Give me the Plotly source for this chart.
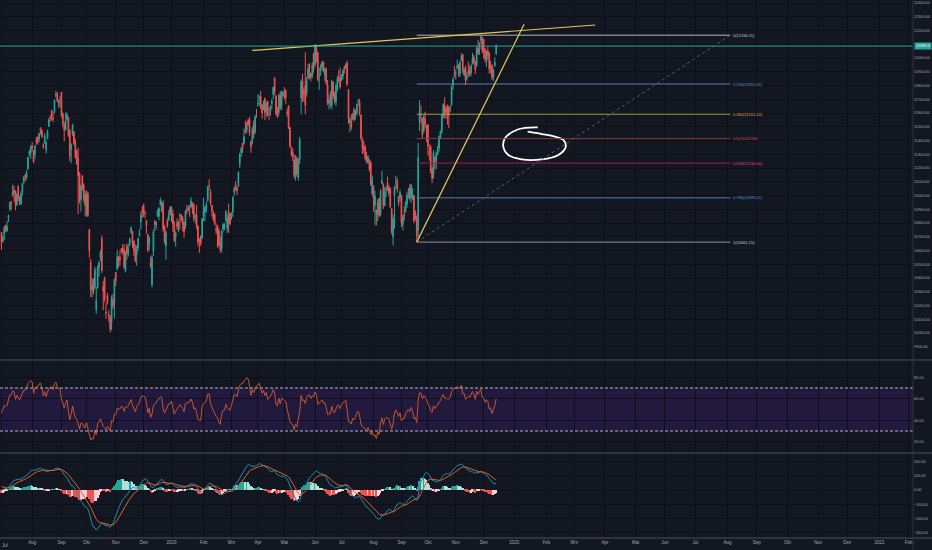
import numpy as np
import pandas as pd
import plotly.graph_objects as go

# ---------------- calendar (trading days) ----------------
first_day = "2018-07-02"
last_day = "2019-12-13"
axis_end_day = "2021-03-31"
holidays = ["2018-08-15", "2018-08-22", "2018-09-13", "2018-09-20", "2018-10-02", "2018-10-18",
            "2018-11-08", "2018-11-23", "2018-12-25", "2019-03-04", "2019-03-21", "2019-04-17",
            "2019-04-19", "2019-04-29", "2019-05-01", "2019-06-05", "2019-08-12", "2019-08-15",
            "2019-09-02", "2019-09-10", "2019-10-02", "2019-10-08", "2019-10-21", "2019-10-28",
            "2019-11-12"]
special_sessions = ["2019-10-27"]
month_labels = ["", "Feb", "Mrz", "Apr", "Mai", "Jun", "Jul", "Aug", "Sep", "Okt", "Nov", "Dez"]

# ---------------- price data (daily OHLC) ----------------
warmup_closes = [10212, 10245, 10128, 10326, 10331, 10379, 10402, 10418, 10459, 10480, 10528, 10548, 10526,
                 10565, 10564, 10584, 10614, 10570, 10617, 10692, 10739, 10718, 10679, 10618, 10715, 10717,
                 10741, 10717, 10806, 10806, 10801, 10741, 10682, 10596, 10517, 10536, 10430, 10513, 10605,
                 10688, 10633, 10614, 10736, 10697, 10628, 10594, 10684, 10768, 10768, 10787, 10843, 10856,
                 10808, 10818, 10800, 10710, 10772, 10741, 10822, 10762, 10769, 10671, 10589, 10714]

opens = [
    10732, 10668, 10715, 10786, 10744, 10838, 10902, 10957, 10999, 11041, 11034, 10929, 11060, 10990, 10936, 11025, 11105, 11147, 11133, 11195, 11296, 11311,
    11359, 11328, 11297, 11401, 11424, 11412, 11493, 11474, 11369, 11381, 11334, 11412, 11502, 11576, 11620, 11566, 11605, 11731, 11744, 11694, 11675,
    11751, 11598, 11514, 11476, 11558, 11570, 11476, 11340, 11443, 11465, 11381, 11326, 11271, 11165, 10969, 11145, 11079, 11008,
    10930, 11012, 10754, 10514, 10310, 10391, 10332, 10169, 10331, 10474, 10550, 10688, 10339, 10405, 10152, 10273, 10135, 10122, 10078, 10239, 10209,
    10441, 10462, 10558, 10553, 10614, 10614, 10607, 10451, 10634, 10581, 10644, 10731, 10740, 10670, 10612, 10568, 10621, 10708, 10809, 10892,
    10930, 10877, 10820, 10718, 10644, 10508, 10350, 10591, 10810, 10784, 10853, 10850, 10930, 10885, 10944, 10780, 10635, 10817, 10820, 10914,
    10881, 10868, 10796, 10699, 10804, 10786, 10863, 10859, 10834, 10807, 10777, 10900, 10899, 10914, 10919, 10949, 10931, 10844, 10859, 10780, 10653, 10702, 10690,
    10852, 10876, 10908, 10965, 11071, 11024, 10930, 10879, 10865, 10757, 10780, 10742, 10653, 10614, 10755, 10766, 10822, 10761, 10881, 10867,
    10842, 10880, 11024, 11077, 11054, 11068, 11228, 11312, 11381, 11377, 11473, 11476, 11551, 11549, 11396, 11393, 11526, 11463, 11625,
    11665, 11712, 11721, 11660, 11638, 11705, 11612, 11687, 11598, 11612, 11668, 11736, 11856, 11727, 11612, 11601, 11736, 11651, 11726,
    11726, 11765, 11605, 11651, 11496, 11323, 11314, 11258, 11151, 11271, 11132, 11262, 11707, 11835, 11760, 11802, 11748, 11855, 11958, 11891, 11871, 12031,
    11953, 12069, 12040, 11865, 11912, 11932, 11972, 11875, 11924, 11806, 11670, 11709, 11657, 11826, 11725, 11681, 11768, 11860, 11861,
    11840, 11867, 11932, 11929, 11964, 11770, 11531, 11537, 11561, 11627, 11578, 11596, 11682, 11675, 11585, 11404, 11358, 11353, 11280, 11240, 11247, 11240, 11013,
    11061, 10931, 10895, 10865, 10979, 10870, 11087, 11086, 10925, 11043, 11095, 11063, 11052, 10905, 10699, 11000, 11101, 11101, 10996, 10987,
    11003, 10790, 10861, 10883, 10937, 11029, 11058, 10986, 10995, 11001, 10872, 10845, 10747, 11542, 11590, 11565, 11469, 11556, 11484,
    11516, 11323, 11352, 11197, 11157, 11280, 11257, 11301, 11343, 11423, 11466, 11580, 11657, 11637, 11657, 11646, 11627, 11661, 11800, 11883,
    11886, 11928, 11941, 11883, 11988, 12023, 11878, 11926, 11852, 11905, 11915, 11892, 11957, 12004, 11969, 11946, 12068, 12060, 12132, 12147,
    12137, 12067, 11976, 12051, 12039, 11939, 11944, 11868, 11944, 12027]

highs = [
    10736, 10713, 10777, 10786, 10817, 10860, 10956, 10959, 11078, 11071, 11036, 11019, 11076, 10993, 11031, 11093, 11143, 11157, 11185, 11283, 11332, 11366,
    11391, 11328, 11368, 11427, 11428, 11459, 11495, 11478, 11380, 11453, 11400, 11479, 11565, 11582, 11620, 11605, 11700, 11760, 11754, 11698, 11727,
    11751, 11602, 11536, 11604, 11603, 11570, 11479, 11380, 11523, 11465, 11411, 11332, 11346, 11171, 11080, 11145, 11089, 11035,
    11035, 11030, 10754, 10541, 10399, 10397, 10482, 10335, 10492, 10526, 10604, 10710, 10380, 10408, 10223, 10290, 10166, 10128, 10275, 10285, 10396,
    10441, 10606, 10558, 10600, 10616, 10646, 10645, 10596, 10651, 10646, 10695, 10775, 10740, 10671, 10646, 10637, 10695, 10757, 10883, 10922,
    10941, 10890, 10821, 10722, 10704, 10558, 10567, 10752, 10822, 10815, 10900, 10915, 10985, 10962, 10964, 10782, 10747, 10834, 10893, 10923,
    10923, 10896, 10814, 10741, 10835, 10818, 10870, 10860, 10850, 10808, 10896, 10929, 10931, 10930, 10988, 10949, 10944, 10866, 10931, 10780, 10690, 10710, 10838,
    10983, 10928, 10956, 11072, 11119, 11043, 10930, 10891, 10867, 10798, 10785, 10762, 10703, 10750, 10801, 10799, 10895, 10859, 10941, 10877,
    10877, 10995, 11063, 11105, 11066, 11176, 11311, 11352, 11384, 11487, 11544, 11535, 11556, 11573, 11396, 11500, 11546, 11588, 11630,
    11738, 11728, 11761, 11662, 11689, 11713, 11683, 11688, 11642, 11657, 11704, 11791, 11856, 11727, 11645, 11740, 11759, 11763, 11760,
    11789, 11770, 11633, 11657, 11500, 11357, 11345, 11300, 11294, 11286, 11270, 11426, 11845, 11884, 11784, 12041, 11860, 11958, 11958, 11893, 11968, 12039,
    12103, 12096, 12040, 11931, 11954, 11980, 11975, 11931, 11930, 11840, 11734, 11759, 11843, 11828, 11754, 11814, 11871, 11911, 11932,
    11884, 11917, 11945, 11961, 11981, 11771, 11570, 11593, 11601, 11639, 11624, 11670, 11701, 11704, 11590, 11424, 11399, 11368, 11318, 11292, 11265, 11254, 11146,
    11076, 11034, 10895, 10975, 10980, 11045, 11181, 11086, 11060, 11068, 11138, 11075, 11055, 10908, 10862, 11070, 11143, 11129, 10996, 11043,
    11003, 10860, 10920, 10961, 11028, 11054, 11082, 11084, 11055, 11001, 10893, 10855, 11382, 11694, 11655, 11565, 11589, 11610, 11513,
    11516, 11370, 11369, 11208, 11330, 11285, 11319, 11364, 11438, 11473, 11597, 11670, 11714, 11645, 11660, 11646, 11658, 11800, 11860, 11945,
    11918, 11989, 11958, 11981, 12034, 12030, 11930, 11946, 11898, 11974, 11946, 11957, 12038, 12022, 11982, 12084, 12132, 12114, 12166, 12158,
    12137, 12069, 12054, 12082, 12040, 11981, 11956, 11924, 12004, 12099]

lows = [
    10604, 10658, 10677, 10733, 10735, 10807, 10886, 10894, 10993, 10957, 10893, 10925, 10956, 10931, 10934, 10999, 11083, 11100, 11116, 11186, 11286, 11267,
    11322, 11234, 11267, 11370, 11370, 11386, 11443, 11419, 11340, 11380, 11305, 11410, 11499, 11539, 11546, 11533, 11595, 11710, 11679, 11639, 11640,
    11567, 11499, 11394, 11476, 11539, 11427, 11250, 11235, 11432, 11366, 11268, 11220, 10866, 10944, 10882, 11034, 10953, 10850,
    10845, 10844, 10547, 10261, 10262, 10280, 10318, 10139, 10322, 10410, 10525, 10436, 10167, 10224, 10102, 10207, 10080, 10004, 10020, 10175, 10105,
    10341, 10457, 10477, 10489, 10582, 10569, 10464, 10440, 10532, 10557, 10631, 10721, 10620, 10562, 10513, 10489, 10596, 10699, 10755, 10836,
    10845, 10833, 10722, 10588, 10599, 10474, 10333, 10560, 10743, 10752, 10844, 10819, 10928, 10880, 10738, 10649, 10534, 10764, 10817, 10853,
    10807, 10735, 10661, 10628, 10750, 10733, 10749, 10809, 10739, 10692, 10757, 10864, 10883, 10844, 10907, 10864, 10811, 10798, 10756, 10631, 10583, 10631, 10683,
    10813, 10815, 10878, 10954, 11034, 10926, 10848, 10813, 10785, 10718, 10620, 10628, 10586, 10585, 10731, 10748, 10802, 10729, 10729, 10784,
    10823, 10845, 10996, 11035, 11002, 11061, 11199, 11280, 11309, 11370, 11451, 11452, 11503, 11434, 11311, 11371, 11416, 11447, 11565,
    11644, 11655, 11629, 11559, 11620, 11550, 11570, 11577, 11550, 11578, 11630, 11700, 11729, 11583, 11562, 11579, 11621, 11622, 11716,
    11698, 11666, 11572, 11484, 11344, 11285, 11251, 11125, 11108, 11136, 11108, 11231, 11591, 11681, 11682, 11591, 11719, 11845, 11845, 11830, 11852, 11893,
    11936, 11967, 11830, 11769, 11871, 11905, 11894, 11831, 11801, 11657, 11626, 11641, 11626, 11706, 11670, 11651, 11757, 11821, 11775,
    11831, 11844, 11887, 11923, 11797, 11523, 11461, 11475, 11546, 11538, 11553, 11583, 11653, 11578, 11399, 11303, 11305, 11254, 11233, 11232, 11175, 11068, 10999,
    10882, 10783, 10783, 10814, 10842, 10850, 11084, 10902, 10925, 10988, 11032, 10994, 10908, 10719, 10637, 10757, 11049, 11021, 10923, 10957,
    10771, 10746, 10816, 10876, 10911, 10977, 10964, 10946, 10969, 10797, 10818, 10661, 10691, 11469, 11523, 11413, 11453, 11491, 11390,
    11290, 11255, 11158, 11090, 11123, 11191, 11191, 11294, 11319, 11409, 11448, 11559, 11563, 11556, 11516, 11490, 11606, 11652, 11768, 11856,
    11843, 11919, 11863, 11862, 11975, 11888, 11867, 11802, 11834, 11867, 11862, 11868, 11954, 11952, 11884, 11934, 12022, 12022, 12101, 12034,
    11996, 11968, 11937, 11989, 11887, 11888, 11842, 11832, 11935, 12023]

closes = [
    10657, 10699, 10769, 10749, 10772, 10852, 10947, 10948, 11023, 11018, 10936, 11008, 10980, 10957, 11010, 11084, 11134, 11132, 11167, 11278, 11319, 11357,
    11346, 11244, 11361, 11387, 11389, 11450, 11470, 11429, 11355, 11435, 11385, 11470, 11551, 11570, 11582, 11557, 11692, 11738, 11691, 11676, 11680,
    11582, 11520, 11476, 11537, 11589, 11438, 11287, 11369, 11515, 11377, 11278, 11234, 11143, 10967, 11067, 11053, 10977, 10930,
    11008, 10858, 10599, 10316, 10348, 10301, 10460, 10234, 10473, 10512, 10584, 10453, 10303, 10245, 10146, 10224, 10124, 10030, 10251, 10198, 10387,
    10380, 10553, 10524, 10530, 10598, 10585, 10482, 10582, 10576, 10616, 10682, 10763, 10656, 10601, 10526, 10628, 10685, 10728, 10858, 10876,
    10883, 10869, 10782, 10601, 10693, 10488, 10549, 10737, 10791, 10805, 10888, 10908, 10967, 10951, 10754, 10663, 10729, 10779, 10859, 10862,
    10910, 10792, 10672, 10727, 10772, 10802, 10855, 10821, 10794, 10737, 10886, 10890, 10905, 10907, 10961, 10923, 10831, 10849, 10780, 10661, 10652, 10651, 10831,
    10894, 10912, 10934, 11062, 11069, 10944, 10888, 10831, 10793, 10746, 10724, 10640, 10605, 10735, 10789, 10792, 10880, 10835, 10806, 10793,
    10864, 10987, 11053, 11058, 11035, 11168, 11301, 11342, 11343, 11427, 11462, 11532, 11521, 11456, 11354, 11483, 11445, 11570, 11624,
    11669, 11713, 11643, 11598, 11665, 11604, 11671, 11584, 11597, 11643, 11690, 11787, 11752, 11594, 11575, 11726, 11641, 11755, 11748,
    11725, 11712, 11598, 11498, 11359, 11302, 11279, 11148, 11222, 11157, 11257, 11407, 11828, 11709, 11738, 11657, 11844, 11924, 11928, 11861, 11945, 11923,
    12088, 12021, 11843, 11870, 11922, 11965, 11906, 11914, 11823, 11672, 11691, 11691, 11831, 11724, 11699, 11796, 11847, 11841, 11789,
    11865, 11910, 11916, 11946, 11811, 11558, 11555, 11498, 11582, 11552, 11588, 11662, 11687, 11596, 11419, 11346, 11332, 11271, 11252, 11284, 11189, 11085, 11118,
    10980, 10997, 10863, 10948, 10855, 11032, 11109, 10926, 11029, 11048, 11053, 11017, 10918, 10741, 10829, 11058, 11106, 11046, 10949, 11023,
    10798, 10845, 10848, 10947, 11003, 11036, 10982, 11076, 11004, 10818, 10841, 10705, 11274, 11600, 11588, 11441, 11571, 11512, 11474,
    11359, 11314, 11175, 11126, 11313, 11235, 11305, 11341, 11428, 11464, 11586, 11662, 11588, 11604, 11582, 11583, 11628, 11787, 11844, 11877,
    11890, 11941, 11917, 11966, 12012, 11908, 11913, 11840, 11872, 11895, 11884, 11940, 11999, 11968, 11914, 12073, 12037, 12101, 12151, 12056,
    12048, 11994, 12043, 12018, 11922, 11937, 11857, 11910, 11972, 12087]

# ---------------- drawings ----------------
fib_start_day = "2019-09-19"
fib_end_day = "2020-08-05"
fib_high = 12166.11
fib_low = 10661.15
fib_ratios = [0, 0.236, 0.382, 0.5, 0.618, 0.786, 1]
fib_line_colors = ["#b9b3b5", "#5f7fb8", "#a89a48", "#8a3a38", "#9c1c5c", "#5b7a99", "#8e9099"]
fib_text_colors = ["#c9c9cf", "#5b8fd6", "#e0a040", "#d9534f", "#e0407a", "#5b8fd6", "#c9c9cf"]

trend_a_days = ["2019-03-26", "2020-03-23"]
trend_a_prices = [12055, 12240]
trend_b_days = ["2019-09-19", "2020-01-10"]
trend_b_prices = [10661.15, 12245]

sketch_bars = [384.8, 370.9, 361.3, 360.1, 363.7, 373.3, 387.7, 399.6, 404.9, 403.2, 397.2, 387.7, 377.6]
sketch_prices = [11496, 11482, 11416, 11355, 11295, 11263, 11263, 11295, 11355, 11404, 11428, 11447, 11464]

# ---------------- axis ranges ----------------
x_range = [-1.08, 654.1]
price_range = [9811, 12422]
price_ticks = [9900, 10000, 10100, 10200, 10300, 10400, 10500, 10600, 10700, 10800, 10900, 11000, 11100,
               11200, 11300, 11400, 11500, 11600, 11700, 11800, 11900, 12000, 12100, 12200, 12300, 12400]
rsi_range = [10.5, 95.1]
rsi_ticks = [20, 40, 60, 80]
macd_range = [-336, 252]
macd_ticks = [-300, -200, -100, 0, 100, 200]

# ---------------- build calendar index ----------------
days = pd.bdate_range(first_day, last_day)
days = days[~days.isin(pd.to_datetime(holidays))]
days = days.union(pd.DatetimeIndex(pd.to_datetime(special_sessions)))
future = pd.bdate_range(pd.Timestamp(last_day) + pd.Timedelta(days=1), axis_end_day)
all_days = days.append(future)
n = len(closes)
xs = np.arange(n)


def pos(day):
    return int(all_days.searchsorted(pd.Timestamp(day)))


tick_vals, tick_text = [], []
prev = None
for i, d in enumerate(all_days):
    key = (d.year, d.month)
    if key != prev:
        tick_vals.append(i)
        tick_text.append(str(d.year) if d.month == 1 else month_labels[d.month - 1])
        prev = key

# price tick labels hidden behind the last-price tag (as on the reference)
price_tick_text = ["" if abs(t - closes[-1]) < 50 else f"{t:.2f}" for t in price_ticks]

# ---------------- indicators ----------------
full = pd.Series(warmup_closes + closes, dtype=float)
delta = full.diff()
gain = delta.clip(lower=0).ewm(alpha=1 / 14, adjust=False).mean()
loss = (-delta.clip(upper=0)).ewm(alpha=1 / 14, adjust=False).mean()
rsi = (100 - 100 / (1 + gain / loss)).iloc[-n:].to_numpy()
ema12 = full.ewm(span=12, adjust=False).mean()
ema26 = full.ewm(span=26, adjust=False).mean()
macd_full = ema12 - ema26
signal_full = macd_full.ewm(span=9, adjust=False).mean()
hist_full = macd_full - signal_full
macd = macd_full.iloc[-n:].to_numpy()
signal = signal_full.iloc[-n:].to_numpy()
hist = hist_full.iloc[-n:].to_numpy()
hist_prev = hist_full.shift(1).iloc[-n:].to_numpy()
hist_colors = []
for h, p in zip(hist, hist_prev):
    if h >= 0:
        hist_colors.append("#26a69a" if h > p else "#b2dfdb")
    else:
        hist_colors.append("#ffcdd2" if h > p else "#ef5350")

# ---------------- figure ----------------
BG = "#131722"
GRID = "#0d1017"
TXT = "#a3a6af"
FONT = "Liberation Sans"

fig = go.Figure()
fig.add_trace(go.Candlestick(
    x=xs, open=opens, high=highs, low=lows, close=closes,
    increasing=dict(line=dict(color="#26a69a", width=1), fillcolor="#26a69a"),
    decreasing=dict(line=dict(color="#ef5350", width=1), fillcolor="#ef5350"),
    xaxis="x", yaxis="y", hoverinfo="skip", showlegend=False))

fig.add_trace(go.Scatter(x=sketch_bars, y=sketch_prices, mode="lines",
                         line=dict(color="#ffffff", width=1.8, shape="spline", smoothing=1.1),
                         xaxis="x", yaxis="y", hoverinfo="skip", showlegend=False))

fig.add_trace(go.Scatter(x=xs, y=rsi, mode="lines", line=dict(color="#c9552f", width=1),
                         xaxis="x2", yaxis="y2", hoverinfo="skip", showlegend=False))

fig.add_trace(go.Bar(x=xs, y=hist, marker=dict(color=hist_colors, line=dict(width=0)), width=0.85,
                     xaxis="x3", yaxis="y3", hoverinfo="skip", showlegend=False))
fig.add_trace(go.Scatter(x=xs, y=macd, mode="lines", line=dict(color="#1e8eb0", width=1),
                         xaxis="x3", yaxis="y3", hoverinfo="skip", showlegend=False))
fig.add_trace(go.Scatter(x=xs, y=signal, mode="lines", line=dict(color="#e0622a", width=1),
                         xaxis="x3", yaxis="y3", hoverinfo="skip", showlegend=False))

shapes = []
annotations = []

# RSI band
shapes.append(dict(type="rect", xref="paper", yref="y2", x0=0, x1=1, y0=30, y1=70,
                   fillcolor="#22193e", line=dict(width=0), layer="below"))
for lvl in (30, 70):
    shapes.append(dict(type="line", xref="paper", yref="y2", x0=0, x1=1, y0=lvl, y1=lvl,
                       line=dict(color="#b2b5be", width=1, dash="3px,2px")))

# Fibonacci retracement
fx0, fx1 = pos(fib_start_day), pos(fib_end_day)
for r, lc, tc in zip(fib_ratios, fib_line_colors, fib_text_colors):
    lvl = fib_high - r * (fib_high - fib_low)
    shapes.append(dict(type="line", xref="x", yref="y", x0=fx0, x1=fx1, y0=lvl, y1=lvl,
                       line=dict(color=lc, width=1)))
    annotations.append(dict(x=fx1, y=lvl, xref="x", yref="y", xanchor="left", yanchor="middle",
                            xshift=1, showarrow=False, text=f"{r:g}({lvl:.2f})",
                            font=dict(family=FONT, size=4, color=tc)))
shapes.append(dict(type="line", xref="x", yref="y", x0=fx0, x1=fx1, y0=fib_low, y1=fib_high,
                   line=dict(color="#4f5d7e", width=1, dash="dot")))

# trend lines
shapes.append(dict(type="line", xref="x", yref="y", x0=pos(trend_a_days[0]), x1=pos(trend_a_days[1]),
                   y0=trend_a_prices[0], y1=trend_a_prices[1], line=dict(color="#e3c75a", width=1.2)))
shapes.append(dict(type="line", xref="x", yref="y", x0=pos(trend_b_days[0]), x1=pos(trend_b_days[1]),
                   y0=trend_b_prices[0], y1=trend_b_prices[1], line=dict(color="#e3c75a", width=1.2)))

# current price line + label
shapes.append(dict(type="line", xref="paper", yref="y", x0=0, x1=1, y0=closes[-1], y1=closes[-1],
                   line=dict(color="#26a69a", width=1)))
annotations.append(dict(x=1, y=closes[-1], xref="paper", yref="y", xanchor="left", yanchor="middle",
                        xshift=1, showarrow=False, text=f"{closes[-1]:.1f}", bgcolor="#26a69a", borderpad=1,
                        font=dict(family=FONT, size=3.8, color="#ffffff")))

# first month label sitting on the left edge
annotations.append(dict(x=0, y=0, xref="paper", yref="paper", xanchor="left", yanchor="top",
                        yshift=-3, showarrow=False, text=tick_text[0],
                        font=dict(family=FONT, size=4.5, color=TXT)))

# pane separators and axis borders
W_EXT = 932 / 913
for yp in (0.3309, 0.158):
    shapes.append(dict(type="line", xref="paper", yref="paper", x0=0, x1=W_EXT, y0=yp, y1=yp,
                       line=dict(color="#4c505b", width=1)))
shapes.append(dict(type="line", xref="paper", yref="paper", x0=0, x1=W_EXT, y0=0, y1=0,
                   line=dict(color="#4c505b", width=1)))
shapes.append(dict(type="line", xref="paper", yref="paper", x0=1, x1=1, y0=-0.03, y1=1,
                   line=dict(color="#2e323d", width=1)))

axis_font = dict(family=FONT, size=3.8, color=TXT)
xcommon = dict(range=x_range, tickmode="array", tickvals=tick_vals, showgrid=True, gridcolor=GRID,
               gridwidth=1, zeroline=False, showline=False, ticks="", fixedrange=True)
ycommon = dict(side="right", showgrid=True, gridcolor=GRID, gridwidth=1, zeroline=False, showline=False,
               ticks="", tickfont=axis_font, tickformat=".2f", fixedrange=True, tickmode="array")

fig.update_layout(
    width=932, height=550,
    margin=dict(l=0, r=19, t=0, b=12),
    paper_bgcolor=BG, plot_bgcolor=BG,
    showlegend=False, hovermode=False, bargap=0,
    font=dict(family=FONT, color=TXT),
    xaxis=dict(xcommon, anchor="y", showticklabels=False, rangeslider=dict(visible=False)),
    xaxis2=dict(xcommon, anchor="y2", showticklabels=False),
    xaxis3=dict(xcommon, anchor="y3", showticklabels=True, ticktext=tick_text,
                tickfont=dict(family=FONT, size=4.5, color=TXT)),
    yaxis=dict(ycommon, domain=[0.3327, 1], range=price_range, tickvals=price_ticks, ticktext=price_tick_text),
    yaxis2=dict(ycommon, domain=[0.1599, 0.329], range=rsi_range, tickvals=rsi_ticks),
    yaxis3=dict(ycommon, domain=[0, 0.1561], range=macd_range, tickvals=macd_ticks),
    shapes=shapes, annotations=annotations,
)

fig.write_html("out.html", config={"displayModeBar": False},
               post_script="document.body.style.margin='0';document.body.style.overflow='hidden';")
